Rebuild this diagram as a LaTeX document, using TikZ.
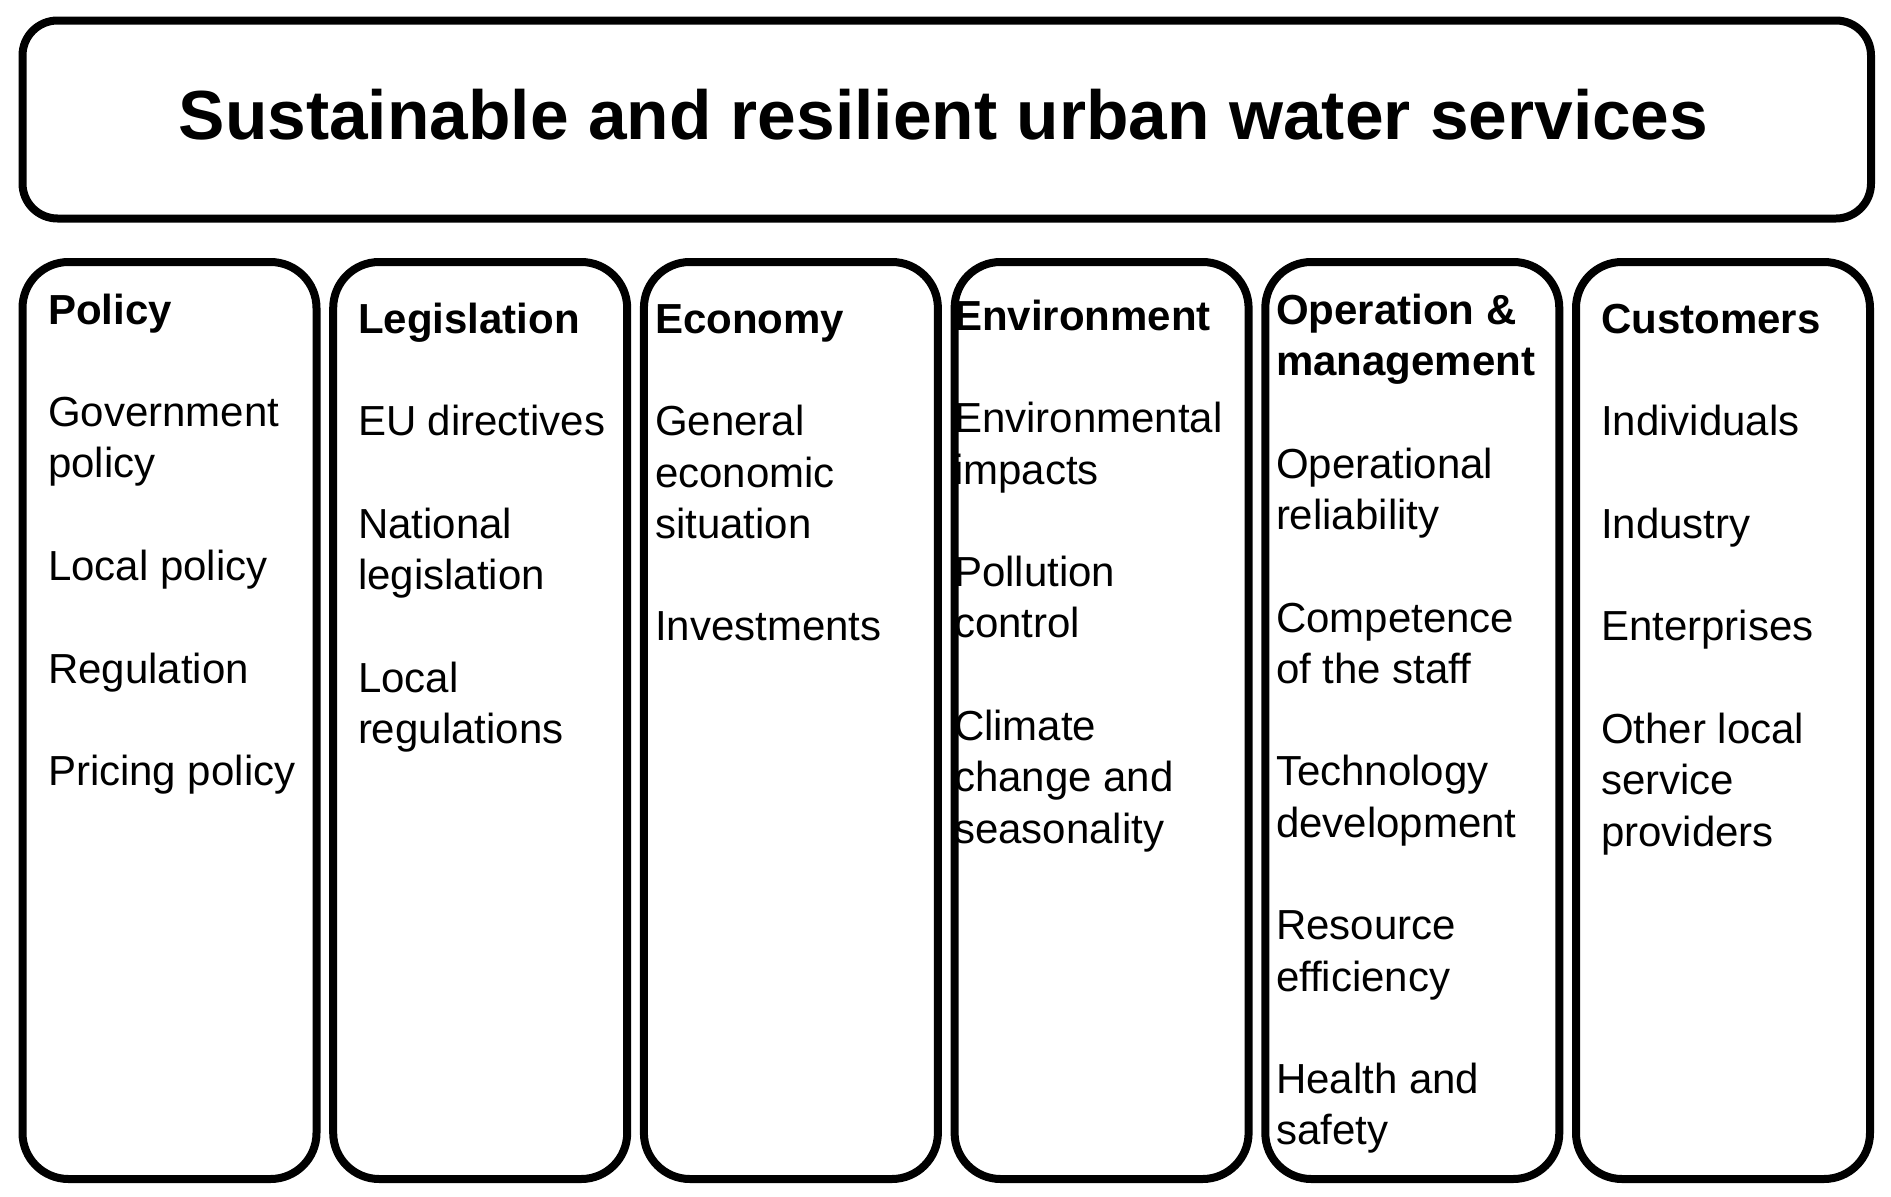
\documentclass[tikz,border=0pt]{standalone}
\usepackage{fontspec}
\setmainfont{Liberation Sans}
\begin{document}
\begin{tikzpicture}[x=1pt,y=-1pt,
  frame/.style={draw=black, line width=8pt, rounded corners=35pt, inner sep=0pt, outer sep=0pt},
  colbox/.style={draw=black, line width=8pt, rounded corners=46pt, inner sep=0pt, outer sep=0pt,
    minimum width=294pt, minimum height=917pt},
  item/.style={anchor=base west, inner sep=0pt, outer sep=0pt, font=\fontsize{42}{51}\selectfont},
  head/.style={item, font=\fontsize{42}{51}\selectfont\bfseries},
  title/.style={anchor=base, inner sep=0pt, font=\fontsize{69.5}{80}\selectfont\bfseries}]
\useasboundingbox[fill=white] (0,0) rectangle (1891,1197);

% title
\node[title] (tt) at (943.5,139) {Sustainable and resilient urban water services};

% column 1
\node[head] (a0) at (48,324) {Policy};
\node[item] (a2) at (48,426.6) {Government};
\node[item] (a3) at (48,477.9) {policy};
\node[item] (a5) at (48,580.5) {Local policy};
\node[item] (a7) at (48,683) {Regulation};
\node[item] (a9) at (48,785.7) {Pricing policy};

% column 2
\node[head] (b0) at (358,333) {Legislation};
\node[item] (b2) at (358,435.6) {EU directives};
\node[item] (b4) at (358,538.2) {National};
\node[item] (b5) at (358,589.5) {legislation};
\node[item] (b7) at (358,692) {Local};
\node[item] (b8) at (358,743.4) {regulations};

% column 3
\node[head] (c0) at (655,333) {Economy};
\node[item] (c2) at (655,435.6) {General};
\node[item] (c3) at (655,487) {economic};
\node[item] (c4) at (655,538.2) {situation};
\node[item] (c6) at (655,640.8) {Investments};

% column 4
\node[head] (d0) at (954,330) {Environment};
\node[item] (d2) at (954,432.6) {Environmental};
\node[item] (d3) at (954,484) {impacts};
\node[item] (d5) at (954,586.5) {Pollution};
\node[item] (d6) at (954,637.8) {control};
\node[item] (d8) at (954,740.4) {Climate};
\node[item] (d9) at (954,791.7) {change and};
\node[item] (d10) at (954,843) {seasonality};

% column 5
\node[head] (e0) at (1276,324) {Operation \&};
\node[head] (e1) at (1276,375.3) {management};
\node[item] (e3) at (1276,478) {Operational};
\node[item] (e4) at (1276,529) {reliability};
\node[item] (e6) at (1276,632) {Competence};
\node[item] (e7) at (1276,683) {of the staff};
\node[item] (e9) at (1276,785.7) {Technology};
\node[item] (e10) at (1276,837) {development};
\node[item] (e12) at (1276,939.6) {Resource};
\node[item] (e13) at (1276,991) {efficiency};
\node[item] (e15) at (1276,1093.5) {Health and};
\node[item] (e16) at (1276,1144.8) {safety};

% column 6
\node[head] (f0) at (1601,333) {Customers};
\node[item] (f2) at (1601,435.6) {Individuals};
\node[item] (f4) at (1601,538.2) {Industry};
\node[item] (f6) at (1601,640.8) {Enterprises};
\node[item] (f8) at (1601,743.4) {Other local};
\node[item] (f9) at (1601,794.7) {service};
\node[item] (f10) at (1601,846) {providers};

% frames
\node[frame, minimum width=1848.5pt, minimum height=198pt] (top) at (946.75,119.5) {};
\node[colbox] (col1) at (169.5,720.5) {};
\node[colbox] (col2) at (480.2,720.5) {};
\node[colbox] (col3) at (790.9,720.5) {};
\node[colbox] (col4) at (1101.6,720.5) {};
\node[colbox] (col5) at (1412.3,720.5) {};
\node[colbox] (col6) at (1723,720.5) {};
\end{tikzpicture}
\end{document}
